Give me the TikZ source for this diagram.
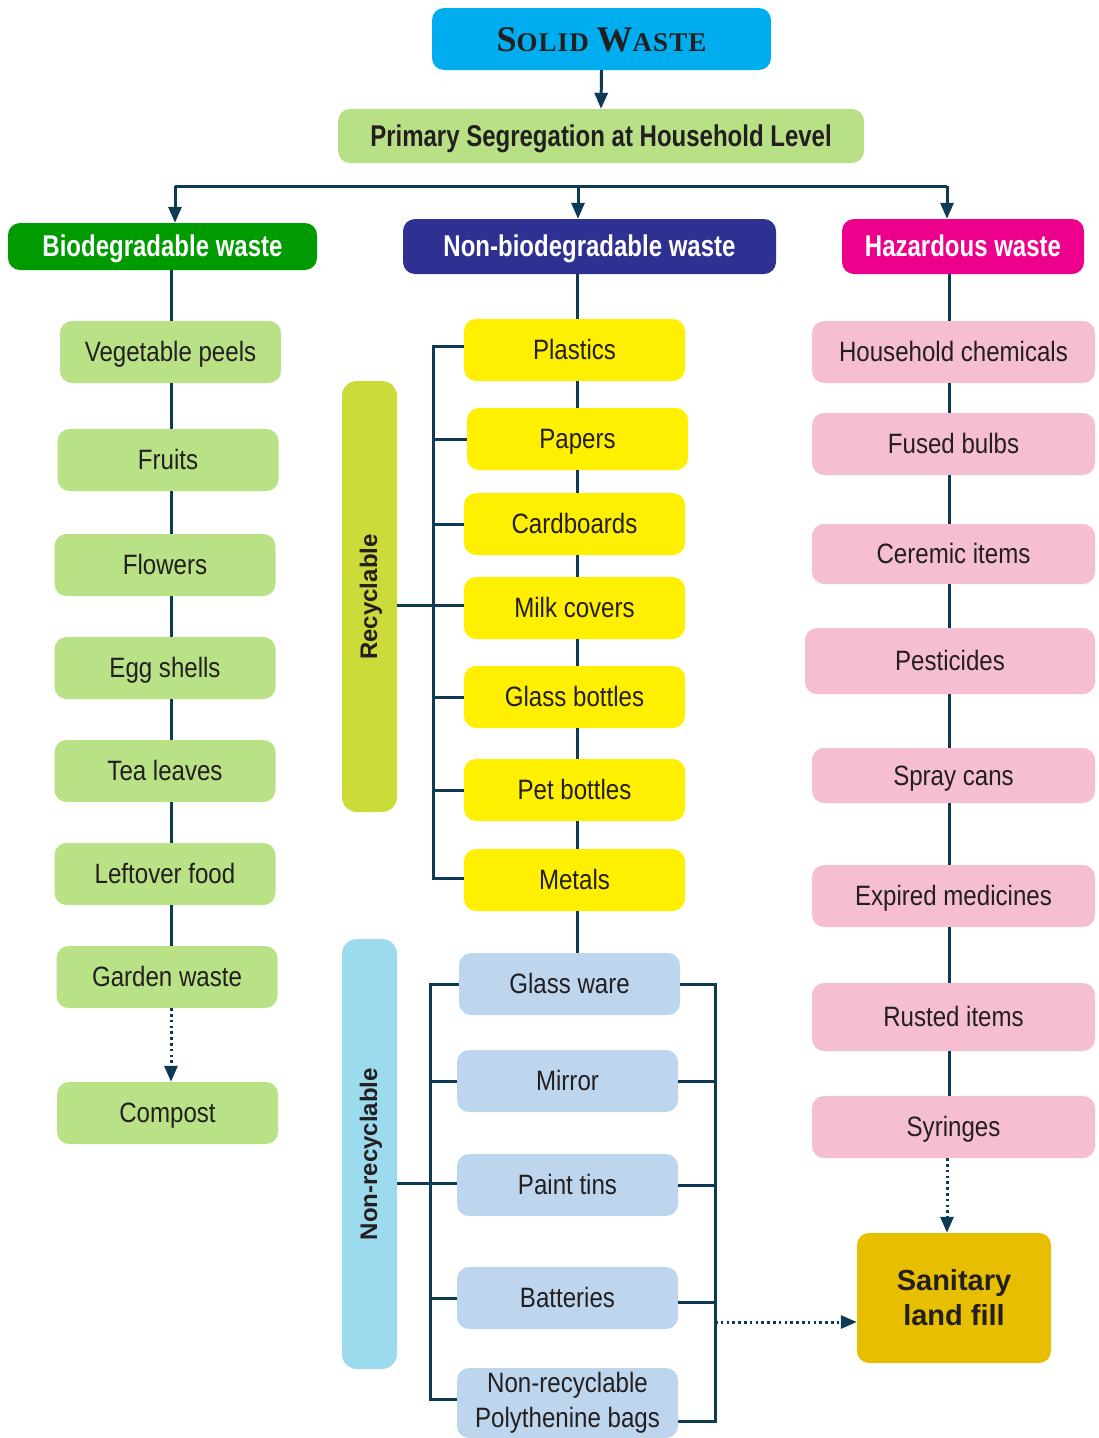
\documentclass[tikz,border=0pt]{standalone}
\usepackage{fontspec}
\setmainfont{Liberation Sans}
\newfontfamily\nar[FakeStretch=0.86]{Liberation Sans}
\newfontfamily\narb[FakeStretch=0.8]{Liberation Sans}
\newfontfamily\ttlfont[LetterSpace=4]{Liberation Serif}
\usetikzlibrary{arrows.meta}
\definecolor{lnc}{HTML}{0D3B56}
\definecolor{txt}{HTML}{231F20}
\definecolor{ctitle}{HTML}{00AEEF}
\definecolor{cprim}{HTML}{B8E186}
\definecolor{cbio}{HTML}{009B00}
\definecolor{cnon}{HTML}{2E3192}
\definecolor{chaz}{HTML}{EC008C}
\definecolor{clg}{HTML}{B9E185}
\definecolor{cyel}{HTML}{FFEF00}
\definecolor{crecy}{HTML}{CBDB3A}
\definecolor{cnrecy}{HTML}{9CDAEE}
\definecolor{cblue}{HTML}{BED6ED}
\definecolor{cpink}{HTML}{F6BED1}
\definecolor{csan}{HTML}{E7BF00}
\begin{document}
\begin{tikzpicture}[x=1pt,y=-1pt,
  boxbase/.style={rounded corners=12pt, draw=none, inner sep=0pt, align=center, text=txt,
    font=\nar\fontsize{28}{35}\selectfont, minimum width=221pt, minimum height=62pt},
  box/.style={boxbase, text height=20pt, text depth=1pt},
  head/.style={rounded corners=12pt, draw=none, inner sep=0pt, align=center, text=white,
    font=\narb\bfseries\fontsize{30}{34}\selectfont, text height=21pt, text depth=1pt},
  bar/.style={rounded corners=15pt, draw=none, inner sep=0pt, minimum width=55pt},
  bartext/.style={rotate=90, text=txt, font=\bfseries\fontsize{24}{28}\selectfont},
  lg/.style={box, fill=clg},
  ye/.style={box, fill=cyel},
  bl/.style={box, fill=cblue},
  pk/.style={box, fill=cpink, minimum width=283pt},
  conn/.style={draw=lnc, line width=3pt},
  arr/.style={conn, -{Triangle[width=13pt,length=16pt]}},
  dott/.style={arr, dash pattern=on 2.6pt off 3.2pt},
]
\useasboundingbox (0,0) rectangle (1099,1438);

% top
\node[head, fill=ctitle, text=txt, minimum width=339pt, minimum height=62pt,
  text height=24pt, text depth=0pt,
  font=\ttlfont\bfseries\fontsize{27}{30}\selectfont] (solid) at (601.5,39)
  {{\fontsize{36}{40}\selectfont S}OLID {\fontsize{36}{40}\selectfont W}ASTE};
\node[head, fill=cprim, text=txt, minimum width=526pt, minimum height=54pt,
  font=\narb\bfseries\fontsize{30}{34}\selectfont] (prim) at (601,136)
  {Primary Segregation at Household Level};

\node[head, fill=cbio, minimum width=309pt, minimum height=47pt] (bio) at (162.5,246.5) {Biodegradable waste};
\node[head, fill=cnon, minimum width=373pt, minimum height=55pt] (nonbio) at (589.5,246.5) {Non-biodegradable waste};
\node[head, fill=chaz, minimum width=242pt, minimum height=55pt] (haz) at (963,246.5) {Hazardous waste};

% left column
\node[lg] (veg) at (170.5,352) {Vegetable peels};
\node[lg] (fruit) at (168,460) {Fruits};
\node[lg] (flow) at (165,565) {Flowers};
\node[lg] (egg) at (165,668) {Egg shells};
\node[lg] (tea) at (165,771) {Tea leaves};
\node[lg] (left) at (165,874) {Leftover food};
\node[lg] (garden) at (167,977) {Garden waste};
\node[lg] (compost) at (167.5,1113) {Compost};

% middle recyclable
\node[ye] (plast) at (574.5,350) {Plastics};
\node[ye] (paper) at (577.5,439) {Papers};
\node[ye] (card) at (574.5,524) {Cardboards};
\node[ye] (milk) at (574.5,608) {Milk covers};
\node[ye] (gbot) at (574.5,697) {Glass bottles};
\node[ye] (pet) at (574.5,790) {Pet bottles};
\node[ye] (metal) at (574.5,880) {Metals};

\node[bar, fill=crecy, minimum height=431pt] (recy) at (369.5,596.5) {};
\node[bartext] (recyt) at (371,597) {Recyclable};

% middle non-recyclable
\node[bl] (gware) at (569.5,984) {Glass ware};
\node[bl] (mirror) at (567.5,1081) {Mirror};
\node[bl] (paint) at (567.5,1185) {Paint tins};
\node[bl] (batt) at (567.5,1298) {Batteries};
\node[boxbase, fill=cblue, minimum height=70pt] (poly) at (567.5,1403) {Non-recyclable\\Polythenine bags};

\node[bar, fill=cnrecy, minimum height=430pt] (nrecy) at (369.5,1154) {};
\node[bartext] (nrecyt) at (371,1154) {Non-recyclable};

% right column
\node[pk] (hh) at (953.5,352) {Household chemicals};
\node[pk] (fused) at (953.5,444) {Fused bulbs};
\node[pk, minimum height=60pt] (cer) at (953.5,554) {Ceremic items};
\node[pk, minimum width=290pt, minimum height=66pt] (pest) at (950,661) {Pesticides};
\node[pk, minimum height=55pt] (spray) at (953.5,775.5) {Spray cans};
\node[pk] (exp) at (953.5,896) {Expired medicines};
\node[pk, minimum height=68pt] (rust) at (953.5,1017) {Rusted items};
\node[pk] (syr) at (953.5,1127) {Syringes};

\node[rounded corners=12pt, fill=csan, minimum width=194pt, minimum height=130pt, inner sep=0pt,
  align=center, text=txt, font=\bfseries\fontsize{29}{35}\selectfont] (sanit) at (954,1298)
  {Sanitary\\land fill};

% connectors: top
\draw[arr] (solid.south) -- (prim.north);
\coordinate (hl) at (175,186);
\coordinate (hm) at (578,186);
\coordinate (hr) at (947,186);
\draw[conn] (hl) -- (hr);
\draw[arr] (hl) -- (hl |- bio.north);
\draw[arr] (hm) -- (hm |- nonbio.north);
\draw[arr] (hr) -- (hr |- haz.north);

% left column spine
\coordinate (lx) at (171,0);
\foreach \a/\b in {bio/veg, veg/fruit, fruit/flow, flow/egg, egg/tea, tea/left, left/garden}
  \draw[conn] (\a.south -| lx) -- (\b.north -| lx);
\draw[dott] (garden.south -| lx) -- (compost.north -| lx);

% middle spine
\coordinate (mx) at (577,0);
\foreach \a/\b in {nonbio/plast, plast/paper, paper/card, card/milk, milk/gbot, gbot/pet, pet/metal, metal/gware}
  \draw[conn] (\a.south -| mx) -- (\b.north -| mx);

% recyclable bracket
\coordinate (rb) at (433,0);
\draw[conn] ([yshift=4pt]plast.west) -- ([yshift=4pt]plast.west -| rb) -- ([yshift=2pt]metal.west -| rb) -- ([yshift=2pt]metal.west);
\foreach \n in {paper, card, gbot, pet}
  \draw[conn] (\n.west) -- (\n.west -| rb);
\draw[conn] ([yshift=3pt]recy.east |- milk.west) -- ([yshift=3pt]milk.west);

% non-recyclable brackets
\coordinate (lb) at (430,0);
\coordinate (rbk) at (715,0);
\draw[conn] (gware.west) -- (gware.west -| lb) -- ([yshift=4pt]poly.west -| lb) -- ([yshift=4pt]poly.west);
\foreach \n in {mirror, batt}
  \draw[conn] (\n.west) -- (\n.west -| lb);
\draw[conn] ([yshift=2pt]nrecy.east |- paint.west) -- ([yshift=2pt]paint.west);
\draw[conn] (gware.east) -- (gware.east -| rbk) -- ([yshift=-18pt]poly.east -| rbk) -- ([yshift=-18pt]poly.east);
\foreach \n in {mirror, paint}
  \draw[conn] (\n.east) -- (\n.east -| rbk);
\draw[conn] ([yshift=-4pt]batt.east) -- ([yshift=-4pt]batt.east -| rbk);
\draw[dott] ([yshift=-24pt]sanit.west -| rbk) -- ([yshift=-24pt]sanit.west);

% right spine
\coordinate (hx) at (949,0);
\foreach \a/\b in {haz/hh, hh/fused, fused/cer, cer/pest, pest/spray, spray/exp, exp/rust, rust/syr}
  \draw[conn] (\a.south -| hx) -- (\b.north -| hx);
\draw[dott] (syr.south -| hr) -- (sanit.north -| hr);
\end{tikzpicture}
\end{document}
